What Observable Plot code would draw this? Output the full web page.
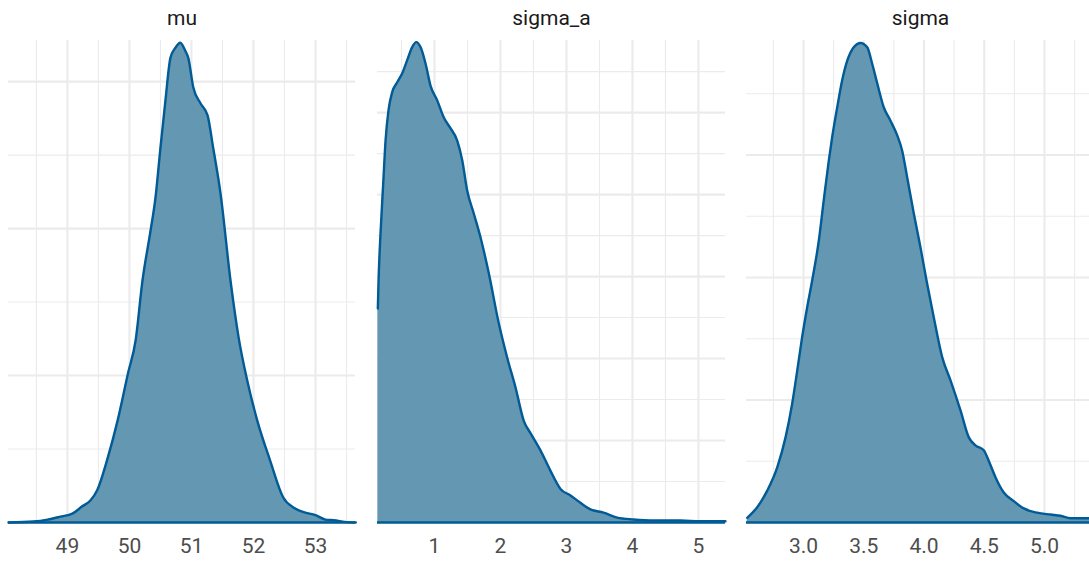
<!DOCTYPE html>
<html>
<head>
<meta charset="utf-8">
<script src="https://cdn.jsdelivr.net/npm/d3@7"></script>
<script src="https://cdn.jsdelivr.net/npm/@observablehq/plot@0.6"></script>
<style>
  html, body { margin: 0; padding: 0; background: #fff; overflow: hidden; }
  #wrap { position: relative; width: 1089px; height: 562px; overflow: hidden; }
  #wrap > svg { position: absolute; top: 0; }
</style>
</head>
<body>
<div id="wrap"></div>
<script>
// ---- data ----
const panelNames = ["mu", "sigma_a", "sigma"];

const muX = [48.05, 48.45, 48.68, 48.89, 49.08, 49.24, 49.37, 49.48, 49.65, 49.81, 49.98, 50.10, 50.21, 50.34, 50.42, 50.50, 50.58, 50.66, 50.74, 50.82, 50.90, 50.95, 51.03, 51.15, 51.26, 51.35, 51.47, 51.63, 51.76, 51.90, 52.06, 52.27, 52.48, 52.65, 52.81, 53.00, 53.16, 53.29, 53.52, 53.65];
const muY = [0, 0.0014, 0.004, 0.008, 0.012, 0.022, 0.030, 0.044, 0.088, 0.139, 0.204, 0.248, 0.329, 0.397, 0.442, 0.510, 0.574, 0.632, 0.646, 0.653, 0.642, 0.632, 0.592, 0.570, 0.554, 0.510, 0.447, 0.329, 0.252, 0.193, 0.139, 0.084, 0.034, 0.020, 0.014, 0.010, 0.004, 0.003, 0.0005, 0];

const sigmaAX = [0.141, 0.152, 0.182, 0.223, 0.258, 0.303, 0.359, 0.435, 0.511, 0.586, 0.662, 0.723, 0.788, 0.864, 0.939, 1.041, 1.141, 1.242, 1.344, 1.420, 1.495, 1.595, 1.697, 1.823, 1.974, 2.102, 2.227, 2.353, 2.455, 2.606, 2.758, 2.909, 3.061, 3.212, 3.364, 3.561, 3.768, 4.015, 4.318, 4.727, 5.030, 5.409];
const sigmaAY = [0.261, 0.295, 0.353, 0.414, 0.466, 0.503, 0.525, 0.537, 0.548, 0.564, 0.580, 0.586, 0.580, 0.560, 0.533, 0.515, 0.494, 0.481, 0.466, 0.442, 0.405, 0.377, 0.348, 0.304, 0.243, 0.201, 0.165, 0.124, 0.109, 0.088, 0.063, 0.041, 0.033, 0.024, 0.016, 0.012, 0.006, 0.0037, 0.0024, 0.0024, 0.0016, 0.0016];

const sigmaX = [2.533, 2.616, 2.699, 2.782, 2.851, 2.906, 2.948, 2.989, 3.031, 3.072, 3.127, 3.168, 3.210, 3.238, 3.280, 3.321, 3.363, 3.417, 3.473, 3.529, 3.570, 3.612, 3.666, 3.722, 3.778, 3.819, 3.861, 3.915, 3.971, 4.021, 4.081, 4.151, 4.220, 4.303, 4.372, 4.427, 4.496, 4.537, 4.593, 4.662, 4.745, 4.828, 4.939, 5.050, 5.133, 5.216, 5.373, 5.415];
const sigmaY = [0.0077, 0.025, 0.052, 0.090, 0.139, 0.194, 0.248, 0.303, 0.352, 0.395, 0.460, 0.526, 0.591, 0.629, 0.678, 0.722, 0.754, 0.776, 0.783, 0.776, 0.749, 0.717, 0.678, 0.656, 0.632, 0.607, 0.563, 0.505, 0.449, 0.395, 0.335, 0.270, 0.232, 0.183, 0.139, 0.126, 0.118, 0.101, 0.074, 0.049, 0.035, 0.023, 0.016, 0.013, 0.011, 0.007, 0.007, 0.007];

const muTicks = [49, 50, 51, 52, 53];
const muMinor = [48.5, 49.5, 50.5, 51.5, 52.5, 53.5];
const muYMajor = [0, 0.2, 0.4, 0.6];
const muYMinor = [0.1, 0.3, 0.5];

const sigmaATicks = [1, 2, 3, 4, 5];
const sigmaAMinor = [0.5, 1.5, 2.5, 3.5, 4.5];
const sigmaAYMajor = [0, 0.1, 0.2, 0.3, 0.4, 0.5];
const sigmaAYMinor = [0.05, 0.15, 0.25, 0.35, 0.45, 0.55];

const sigmaTicks = [3.0, 3.5, 4.0, 4.5, 5.0];
const sigmaTickLabels = ["3.0", "3.5", "4.0", "4.5", "5.0"];
const sigmaMinor = [2.75, 3.25, 3.75, 4.25, 4.75, 5.25];
const sigmaYMajor = [0, 0.2, 0.4, 0.6];
const sigmaYMinor = [0.1, 0.3, 0.5, 0.7];

// ---- drawing ----
const FILL = "#6497b1", STROKE = "#005b96", GRID = "#ebebeb";

function panel(cfg) {
  const data = cfg.xs.map((x, i) => ({x, y: cfg.ys[i]}));
  const svg = Plot.plot({
    width: cfg.width,
    height: 562,
    marginTop: 40,
    marginBottom: 40,
    marginLeft: cfg.ml,
    marginRight: cfg.mr,
    style: {fontFamily: "Roboto, 'Open Sans', sans-serif", fontSize: "21px", background: "transparent", color: "#4d4d4d"},
    x: {domain: cfg.xdom, label: null},
    y: {domain: cfg.ydom, axis: null},
    marks: [
      Plot.ruleX(cfg.xminor, {stroke: GRID, strokeWidth: 1.1}),
      Plot.ruleY(cfg.yminor, {stroke: GRID, strokeWidth: 1.1}),
      Plot.ruleX(cfg.xticks, {stroke: GRID, strokeWidth: 2.1}),
      Plot.ruleY(cfg.ymajor, {stroke: GRID, strokeWidth: 2.1}),
      Plot.areaY(data, {x: "x", y: "y", fill: FILL, curve: "monotone-x"}),
      Plot.lineY(data, {x: "x", y: "y", stroke: STROKE, strokeWidth: 2.4, curve: "monotone-x", strokeLinejoin: "round"}),
      Plot.ruleY([0], {stroke: STROKE, strokeWidth: 2.4}),
      Plot.axisX(cfg.xticks, {tickSize: 0, tickPadding: 16, tickFormat: cfg.fmt, fill: "#4d4d4d", fontSize: 21, label: null}),
      Plot.text([cfg.title], {frameAnchor: "top", lineAnchor: "top", dy: -30, fill: "#1a1a1a", fontSize: 21})
    ]
  });
  svg.style.left = cfg.left + "px";
  document.getElementById("wrap").appendChild(svg);
}

panel({title: panelNames[0], left: 0, width: 365, ml: 8, mr: 10,
  xs: muX, ys: muY, xdom: [48.05, 53.645], ydom: [0, 0.656],
  xticks: muTicks, xminor: muMinor, ymajor: muYMajor, yminor: muYMinor,
  fmt: d => String(d)});

panel({title: panelNames[1], left: 365, width: 365, ml: 12, mr: 5,
  xs: sigmaAX, ys: sigmaAY, xdom: [0.136, 5.41], ydom: [0, 0.588],
  xticks: sigmaATicks, xminor: sigmaAMinor, ymajor: sigmaAYMajor, yminor: sigmaAYMinor,
  fmt: d => String(d)});

panel({title: panelNames[2], left: 730, width: 370, ml: 16, mr: 6,
  xs: sigmaX, ys: sigmaY, xdom: [2.527, 5.415], ydom: [0, 0.787],
  xticks: sigmaTicks, xminor: sigmaMinor, ymajor: sigmaYMajor, yminor: sigmaYMinor,
  fmt: (d, i) => sigmaTickLabels[i]});
</script>
</body>
</html>
